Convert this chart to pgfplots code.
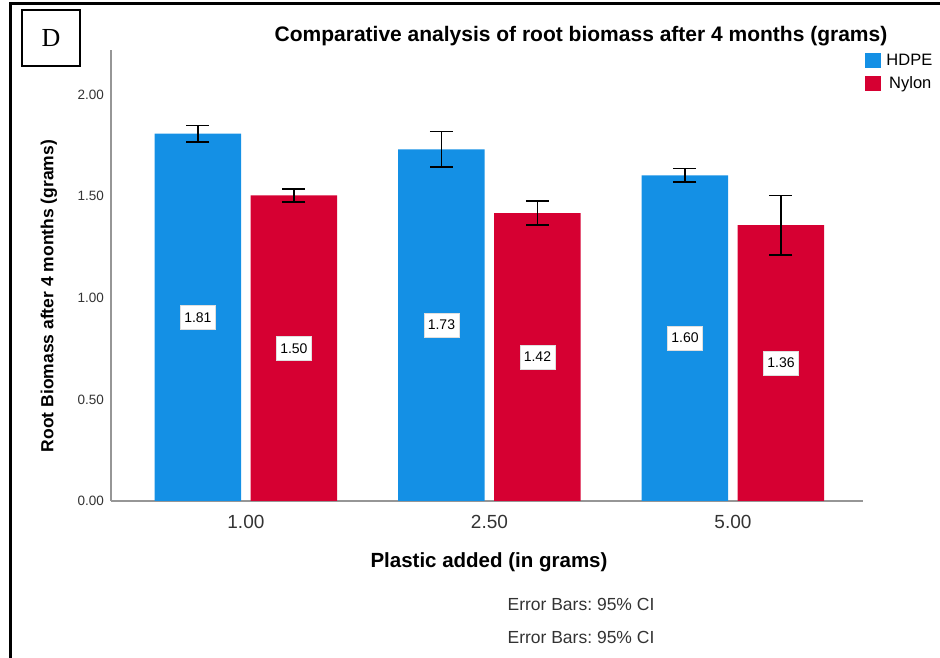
\documentclass[border=0pt]{standalone}
\usepackage{fontspec}
\setmainfont{Liberation Sans}
\newfontfamily\timesfont{Liberation Serif}
\usepackage{pgfplots}
\usepackage{pgfplotstable}
\pgfplotsset{compat=1.18}
\definecolor{hdpe}{RGB}{20,144,229}
\definecolor{nylon}{RGB}{214,0,50}
\definecolor{axgray}{RGB}{150,150,150}
\pgfplotstableread{
x y e
0 1.808 0.040
1 1.731 0.088
2 1.603 0.033
}\hdpe
\pgfplotstableread{
x y e
0 1.504 0.032
1 1.417 0.059
2 1.358 0.146
}\nylon
\pgfplotsset{sqleg/.style={legend image code/.code={\fill[##1] (0pt,-7.5pt) rectangle (16pt,7.5pt);}},
  ebar/.style={error bars/.cd, y dir=both, y explicit, error bar style={black, line width=1.3pt}, error mark=|, error mark options={black, line width=1.6pt, mark size=11.5pt}}}
\begin{document}
\frenchspacing
\begin{tikzpicture}[x=1pt,y=1pt]
\useasboundingbox (0,0) rectangle (940,658);
\draw[line width=3pt] (10,0) -- (10,654) -- (941,654);
\draw[line width=1.5pt] (22,592) rectangle (80,648);
\node at (51,620) {\timesfont\fontsize{26}{28}\selectfont D};
\node at (581,622) {\fontsize{21}{24}\selectfont\bfseries Comparative analysis of root biomass after 4 months (grams)};
\node[rotate=90] at (49,362) {\fontsize{17.5}{20}\selectfont\bfseries Root Biomass after 4 months (grams)};
\node at (489,96) {\fontsize{20.5}{24}\selectfont\bfseries Plastic added (in grams)};
\node[text=black!80] at (581,54) {\fontsize{17.5}{20}\selectfont Error Bars: 95\% CI};
\node[text=black!80] at (581,21) {\fontsize{17.5}{20}\selectfont Error Bars: 95\% CI};
\begin{axis}[
  at={(111pt,157pt)}, anchor=south west,
  scale only axis, width=752pt, height=451pt,
  xmin=-0.554, xmax=2.534, ymin=0, ymax=2.22,
  axis lines*=left,
  axis line style={axgray, line width=1.2pt},
  major tick length=0pt,
  /pgf/number format/assume math mode=true,
  ytick={0,0.5,1,1.5,2},
  yticklabel style={/pgf/number format/.cd, fixed, fixed zerofill, precision=2, /tikz/.cd, font=\fontsize{13.5}{15}\selectfont, text=black!80, anchor=east, inner sep=0pt, xshift=-7pt},
  xtick={0,1,2}, xticklabels={1.00,2.50,5.00},
  xticklabel style={font=\fontsize{19}{21}\selectfont, text=black!80, anchor=center, yshift=-21pt},
  ybar=9.5pt, bar width=86.5pt,
  nodes near coords={\pgfmathprintnumber[fixed,zerofill,precision=2]{\pgfplotspointmeta}},
  visualization depends on={rawy/2 \as \half},
  every node near coord/.append style={shift={(axis direction cs:0,-\half)}, anchor=center, fill=white, draw=gray!25, inner xsep=4pt, minimum height=24.4pt, font=\fontsize{14}{16}\selectfont, text=black},
  legend style={at={(1.003,0.996)}, anchor=north west, draw=none, fill=none, inner sep=0pt, row sep=6pt, font=\fontsize{16.5}{18}\selectfont, cells={anchor=west}, nodes={inner xsep=5pt}},
  clip=false,
]
\addplot[fill=hdpe, draw=none, sqleg, ebar] table[x=x, y=y, y error=e] {\hdpe};
\addlegendentry{HDPE}
\addplot[fill=nylon, draw=none, sqleg, ebar] table[x=x, y=y, y error=e] {\nylon};
\addlegendentry{\,Nylon}
\end{axis}
\end{tikzpicture}
\end{document}
